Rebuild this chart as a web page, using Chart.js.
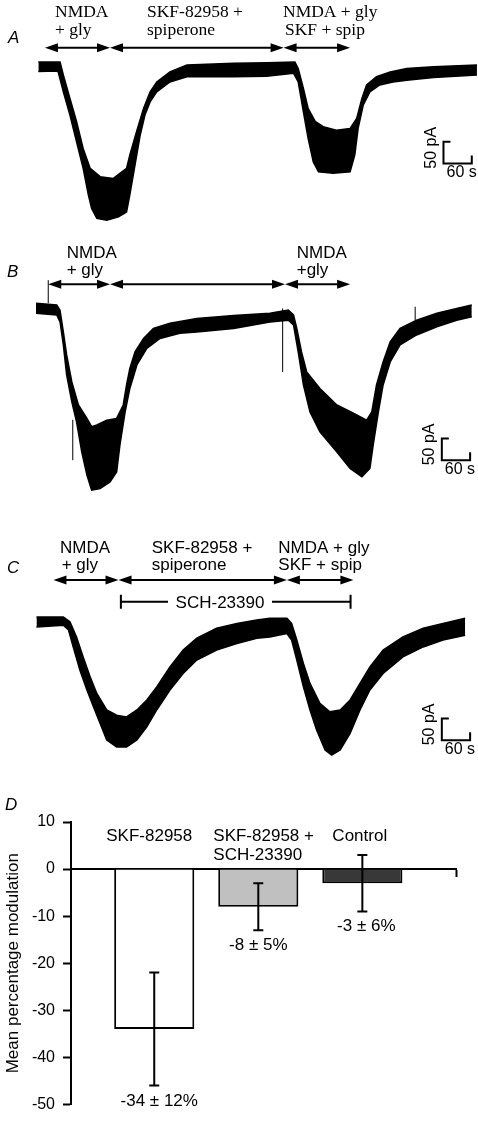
<!DOCTYPE html>
<html>
<head>
<meta charset="utf-8">
<title>NMDA current modulation</title>
<script src="https://cdn.jsdelivr.net/npm/chart.js@4.4.0/dist/chart.umd.min.js"></script>
<style>
  body { margin: 0; background: #fff; }
  #wrap { position: relative; width: 478px; height: 1122px; }
  canvas { position: absolute; left: 0; }
</style>
</head>
<body>
<div id="wrap">
  <canvas id="traceA" width="478" height="230" style="top:0"></canvas>
  <canvas id="traceB" width="478" height="270" style="top:230px"></canvas>
  <canvas id="traceC" width="478" height="262" style="top:500px"></canvas>
  <canvas id="barsD" width="478" height="360" style="top:762px"></canvas>
</div>
<script>
// ---- trace A: time (s) and current (pA, rel. to baseline), upper / lower edge of the noisy trace
const aUpT = [0, 39, 46, 53, 67, 81, 95, 110, 131, 159, 187, 194, 208, 223, 237, 251, 279, 315, 343, 414, 484, 544, 551, 562, 572, 587, 604, 632, 661, 675, 686, 696, 717, 746, 781, 838, 930];
const aUpI = [11, 11, 11, -19, -73, -126, -188, -234, -253, -257, -234, -203, -150, -96, -58, -35, -12, 4, 5, 8, 9, 11, -4, -50, -96, -126, -138, -146, -142, -119, -73, -42, -23, -12, -4, 0, 4];
const aLoT = [0, 39, 42, 53, 67, 81, 95, 106, 113, 124, 145, 170, 187, 194, 205, 216, 226, 237, 251, 279, 315, 343, 414, 484, 541, 551, 562, 572, 583, 594, 625, 661, 671, 678, 689, 703, 724, 752, 781, 838, 930];
const aLoI = [-11, -10, -12, -58, -111, -173, -234, -295, -326, -349, -353, -345, -334, -295, -226, -157, -111, -81, -58, -35, -23, -23, -23, -22, -15, -35, -104, -165, -219, -242, -245, -242, -203, -142, -88, -58, -42, -35, -31, -25, -19];
const aWindows = [[14, 152], [152, 520], [520, 661]];
const aPhases = [['NMDA', '+ gly'], ['SKF-82958 +', 'spiperone'], ['NMDA + gly', 'SKF + spip']];

// ---- trace B
const bUpT = [-5, 39, 46, 53, 60, 71, 85, 103, 113, 124, 145, 166, 180, 187, 194, 205, 223, 244, 279, 336, 414, 491, 530, 541, 548, 558, 569, 597, 633, 668, 696, 707, 717, 731, 746, 767, 802, 845, 887, 919];
const bUpI = [8, 4, -8, -58, -111, -173, -226, -257, -276, -272, -261, -257, -226, -180, -142, -104, -73, -50, -38, -27, -20, -15, -8, -19, -50, -104, -150, -188, -226, -245, -261, -242, -180, -127, -81, -50, -31, -15, -4, 4];
const bLoT = [-5, 39, 46, 53, 60, 71, 81, 92, 103, 113, 131, 152, 166, 173, 184, 194, 209, 230, 258, 300, 336, 414, 491, 530, 541, 551, 562, 576, 597, 633, 661, 686, 703, 710, 721, 731, 746, 767, 802, 845, 887, 919];
const bLoI = [-15, -19, -35, -88, -157, -219, -265, -334, -387, -422, -418, -403, -380, -318, -242, -188, -134, -96, -73, -61, -58, -50, -35, -31, -42, -104, -180, -242, -288, -334, -372, -391, -372, -318, -242, -180, -127, -88, -65, -46, -31, -23];
const bSpikeT = [21, 73, 518, 799];
const bSpikeTop = [61, -260, -4, 0];
const bSpikeBot = [8, -353, -150, -31];
const bWindows = [[21, 152], [152, 523], [523, 661]];
const bPhases = [['NMDA', '+ gly'], null, ['NMDA', '+gly']];

// ---- trace C
const cUpT = [-4, 53, 67, 81, 95, 110, 124, 145, 166, 187, 209, 230, 251, 279, 307, 336, 378, 421, 463, 491, 527, 537, 548, 562, 576, 597, 618, 640, 661, 682, 703, 731, 773, 816, 858, 905];
const cUpI = [11, 11, 0, -35, -81, -127, -165, -203, -215, -219, -203, -180, -150, -104, -65, -38, -15, -4, 4, 8, 8, -4, -42, -96, -142, -188, -207, -203, -180, -142, -104, -65, -35, -15, -4, 8];
const cLoT = [-4, 53, 64, 74, 88, 103, 117, 131, 145, 166, 187, 209, 230, 251, 279, 307, 336, 378, 421, 463, 491, 527, 537, 548, 562, 576, 590, 608, 622, 640, 661, 682, 703, 731, 773, 816, 858, 905];
const cLoI = [-12, -8, -19, -58, -111, -157, -196, -234, -272, -288, -288, -272, -242, -203, -157, -119, -88, -65, -50, -38, -35, -27, -42, -88, -150, -203, -249, -295, -307, -295, -257, -203, -157, -119, -81, -58, -42, -31];
const cWindows = [[32, 170], [170, 527], [527, 668]];
const cPhases = [['NMDA', '+ gly'], ['SKF-82958 +', 'spiperone'], ['NMDA + gly', 'SKF + spip']];
const cSchWindow = [175, 662];

// ---- panel D
const groups = ['SKF-82958', 'SKF-82958 +\nSCH-23390', 'Control'];
const means = [-34, -8, -3];
const sems = [12, 5, 6];
const yTicks = [10, 0, -10, -20, -30, -40, -50];

const SANS = '"Liberation Sans", Arial, Helvetica, sans-serif';
const SERIF = '"Liberation Serif", "Times New Roman", serif';

const pts = (ts, vs) => ts.map((t, i) => ({ x: t, y: vs[i] }));

function drawArrow(ctx, x0, x1, y) {
  const L = 13, H = 4.5;
  ctx.lineWidth = 2;
  ctx.beginPath();
  ctx.moveTo(x0 + L - 1, y);
  ctx.lineTo(x1 - L + 1, y);
  ctx.stroke();
  ctx.beginPath();
  ctx.moveTo(x0, y); ctx.lineTo(x0 + L, y - H); ctx.lineTo(x0 + L, y + H); ctx.closePath();
  ctx.moveTo(x1, y); ctx.lineTo(x1 - L, y - H); ctx.lineTo(x1 - L, y + H); ctx.closePath();
  ctx.fill();
}

function makeDecor(cfg) {
  return {
    id: 'decor',
    afterDatasetsDraw(chart) {
      const { ctx } = chart;
      const xs = chart.scales.x, ys = chart.scales.y;
      ctx.save();
      ctx.fillStyle = '#000';
      ctx.strokeStyle = '#000';

      // application arrows
      cfg.windows.forEach(([t0, t1]) => drawArrow(ctx, xs.getPixelForValue(t0), xs.getPixelForValue(t1), cfg.arrowY));

      // phase labels
      ctx.font = cfg.font;
      ctx.textAlign = 'left';
      ctx.textBaseline = 'alphabetic';
      cfg.phases.forEach((lines, i) => {
        if (!lines) return;
        lines.forEach((txt, k) => ctx.fillText(txt, cfg.labelX[i][k], cfg.labelY[k]));
      });

      // antagonist bar (panel C)
      if (cfg.sch) {
        const s = cfg.sch;
        const x0 = xs.getPixelForValue(s.win[0]), x1 = xs.getPixelForValue(s.win[1]);
        ctx.lineWidth = 2;
        ctx.beginPath();
        ctx.moveTo(x0, s.y); ctx.lineTo(s.textX - 52, s.y);
        ctx.moveTo(s.textX + 52, s.y); ctx.lineTo(x1, s.y);
        ctx.moveTo(x0, s.y - 7); ctx.lineTo(x0, s.y + 7);
        ctx.moveTo(x1, s.y - 7); ctx.lineTo(x1, s.y + 7);
        ctx.stroke();
        ctx.font = `17px ${SANS}`;
        ctx.textAlign = 'center';
        ctx.fillText(s.text, s.textX, s.y + 6);
      }

      // scale bar: 60 s, 50 pA
      const bx0 = xs.getPixelForValue(cfg.bar.t), bx1 = xs.getPixelForValue(cfg.bar.t + 60);
      const by0 = ys.getPixelForValue(cfg.bar.i), by1 = ys.getPixelForValue(cfg.bar.i - 50);
      ctx.lineWidth = 2;
      ctx.beginPath();
      ctx.moveTo(bx0 + 7, by0); ctx.lineTo(bx0, by0); ctx.lineTo(bx0, by1);
      ctx.lineTo(bx1, by1); ctx.lineTo(bx1, by1 - 8);
      ctx.stroke();
      ctx.font = `16px ${SANS}`;
      ctx.textAlign = 'center';
      ctx.textBaseline = 'middle';
      ctx.fillText('60 s', (bx0 + bx1) / 2 + 4, by1 + 9);
      ctx.save();
      ctx.translate(bx0 - 12, by0 + 6);
      ctx.rotate(-Math.PI / 2);
      ctx.fillText('50 pA', 0, 0);
      ctx.restore();

      // panel letter
      ctx.font = `italic 17px ${SANS}`;
      ctx.textAlign = 'left';
      ctx.textBaseline = 'alphabetic';
      ctx.fillText(cfg.letter[0], cfg.letter[1], cfg.letter[2]);
      ctx.restore();
    }
  };
}

function traceChart(id, upT, upI, loT, loI, yMin, yMax, cfg, extra) {
  return new Chart(document.getElementById(id), {
    type: 'line',
    data: {
      datasets: [
        { data: pts(upT, upI), borderColor: '#000', borderWidth: 1.5, pointRadius: 0, tension: 0, fill: false },
        { data: pts(loT, loI), borderColor: '#000', borderWidth: 1.5, pointRadius: 0, tension: 0, fill: '-1', backgroundColor: '#000' }
      ].concat(extra || [])
    },
    options: {
      responsive: false,
      animation: false,
      devicePixelRatio: 1,
      layout: { padding: 0 },
      plugins: { legend: { display: false }, tooltip: { enabled: false } },
      scales: {
        x: { type: 'linear', display: false, min: -81.3, max: 932.2 },
        y: { type: 'linear', display: false, min: yMin, max: yMax }
      }
    },
    plugins: [makeDecor(cfg)]
  });
}

// spikes in trace B, drawn as separate short strokes
const bSpikes = [];
bSpikeT.forEach((t, i) => {
  bSpikes.push({ x: t, y: bSpikeBot[i] }, { x: t, y: bSpikeTop[i] }, { x: t + 0.01, y: null });
});

traceChart('traceA', aUpT, aUpI, aLoT, aLoI, -375.6, 153.4, {
  windows: aWindows, arrowY: 47.7, phases: aPhases, font: `17.5px ${SERIF}`,
  labelX: [[55, 55], [147, 147], [283, 285]], labelY: [17, 35],
  bar: { t: 859, i: -172.6 }, letter: ['A', 8, 43]
});

traceChart('traceB', bUpT, bUpI, bLoT, bLoI, -444.6, 176.4, {
  windows: bWindows, arrowY: 54.3, phases: bPhases, font: `17px ${SANS}`,
  labelX: [[66.7, 66.7], null, [296.7, 296.7]], labelY: [27.7, 45],
  bar: { t: 855.5, i: -303 }, letter: ['B', 7, 46.7]
}, [{ data: bSpikes, borderColor: '#000', borderWidth: 1, pointRadius: 0, fill: false, spanGaps: false }]);

traceChart('traceC', cUpT, cUpI, cLoT, cLoI, -322.7, 280, {
  windows: cWindows, arrowY: 80, phases: cPhases, font: `17px ${SANS}`,
  labelX: [[60, 61.7], [151.7, 151.7], [278.3, 278.3]], labelY: [52.7, 70],
  sch: { win: cSchWindow, y: 101.7, text: 'SCH-23390', textX: 220 },
  bar: { t: 855.5, i: -222.4 }, letter: ['C', 7, 73.3]
});

// ---- panel D: bar chart with SEM error bars
const labelDx = [-48, -45, -30];
const valueDx = [5, 0, 4];

const barDecor = {
  id: 'barDecor',
  afterDatasetsDraw(chart) {
    const { ctx } = chart;
    const y = chart.scales.y;
    const bars = chart.getDatasetMeta(0).data;
    ctx.save();
    ctx.strokeStyle = '#000';
    ctx.fillStyle = '#000';
    ctx.lineWidth = 2;
    bars.forEach((bar, i) => {
      const top = y.getPixelForValue(means[i] + sems[i]);
      const bot = y.getPixelForValue(means[i] - sems[i]);
      ctx.beginPath();
      ctx.moveTo(bar.x, top); ctx.lineTo(bar.x, bot);
      ctx.moveTo(bar.x - 5, top); ctx.lineTo(bar.x + 5, top);
      ctx.moveTo(bar.x - 5, bot); ctx.lineTo(bar.x + 5, bot);
      ctx.stroke();

      ctx.font = `17px ${SANS}`;
      ctx.textBaseline = 'alphabetic';
      ctx.textAlign = 'left';
      groups[i].split('\n').forEach((line, k) => {
        ctx.fillText(line, bar.x + labelDx[i], chart.chartArea.top + 19 + k * 19);
      });
      ctx.textAlign = 'center';
      ctx.fillText(`${means[i]} \u00b1 ${sems[i]}%`, bar.x + valueDx[i], bot + 20);
    });
    ctx.font = `italic 17px ${SANS}`;
    ctx.textAlign = 'left';
    ctx.fillText('D', 5, 48);
    ctx.restore();
  }
};

new Chart(document.getElementById('barsD'), {
  type: 'bar',
  data: {
    datasets: [{
      data: means.map((m, i) => ({ x: i, y: m })),
      backgroundColor: ['#ffffff', '#c0c0c0', '#383838'],
      borderColor: '#000',
      borderWidth: 2,
      barPercentage: 0.77,
      categoryPercentage: 1
    }]
  },
  options: {
    responsive: false,
    animation: false,
    devicePixelRatio: 1,
    layout: { padding: { top: 60, bottom: 11, left: 0, right: 22 } },
    plugins: { legend: { display: false }, tooltip: { enabled: false } },
    scales: {
      x: {
        type: 'linear', min: -0.8, max: 2.9, offset: false, position: { y: 0 }, z: 1,
        ticks: { display: false },
        grid: { offset: false, drawOnChartArea: false, color: '#000', tickLength: 7, tickWidth: 2 },
        border: { color: '#000', width: 2 },
        afterBuildTicks: (s) => { s.ticks = [{ value: s.max }]; }
      },
      y: {
        min: -50, max: 10, z: 1,
        afterBuildTicks: (s) => { s.ticks = yTicks.map((v) => ({ value: v })); },
        ticks: { color: '#000', font: { family: SANS, size: 16 }, padding: 8 },
        grid: { drawOnChartArea: false, color: '#000', tickLength: 8, tickWidth: 2 },
        border: { color: '#000', width: 2 },
        title: {
          display: true, text: 'Mean percentage modulation', color: '#000',
          font: { family: SANS, size: 17 }, padding: { top: 3, bottom: 0 }
        },
        afterFit: (s) => { s.width = 71; }
      }
    }
  },
  plugins: [barDecor]
});
</script>
</body>
</html>
